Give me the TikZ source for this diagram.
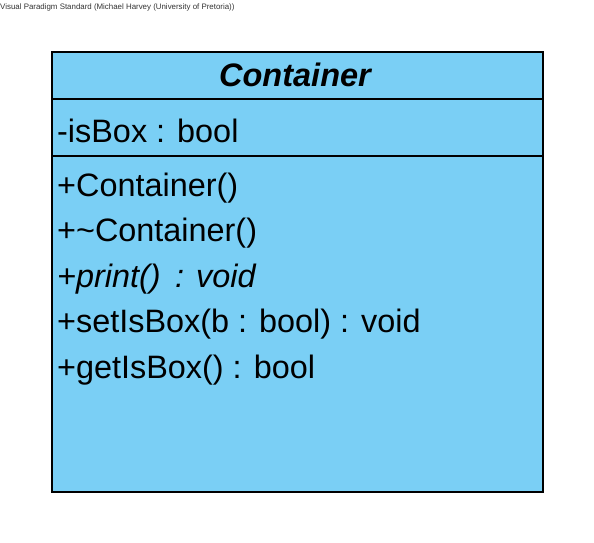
\documentclass[tikz,border=0pt]{standalone}
\usepackage{fontspec}
\setmainfont{Liberation Sans}
\definecolor{umlfill}{RGB}{122,207,245}
\begin{document}
\begin{tikzpicture}[x=1pt,y=-1pt,
  member/.style={anchor=base west,inner sep=0pt,font=\fontsize{32.4}{38}\selectfont},
  titletext/.style={anchor=base,inner sep=0pt,font=\fontsize{32.5}{38}\selectfont\bfseries\itshape},
  boxline/.style={line width=2.2pt,draw=black}]
\useasboundingbox (0,0) rectangle (594,543);
\node[anchor=base west,inner sep=0pt,font=\fontsize{7.9}{9}\selectfont,text=black!80] (hdr) at (0,10) {Visual Paradigm Standard (Michael Harvey (University of Pretoria))};
\filldraw[fill=umlfill,boxline] (52,52) rectangle (543,492);
\draw[boxline] (52,99) -- (543,99);
\draw[boxline] (52,156) -- (543,156);
\node[titletext] (title) at (295,86) {Container};
\node[member] (attr) at (57,142) {-isBox : bool};
\node[member] (op1) at (57,196) {+Container()};
\node[member] (op2) at (57,241.5) {+\textasciitilde Container()};
\node[member,font=\fontsize{32.4}{38}\selectfont\itshape] (op3) at (57,287) {+print()\, : void};
\node[member] (op4) at (57,332.5) {+setIsBox(b : bool) : void};
\node[member] (op5) at (57,378) {+getIsBox() : bool};
\end{tikzpicture}
\end{document}
